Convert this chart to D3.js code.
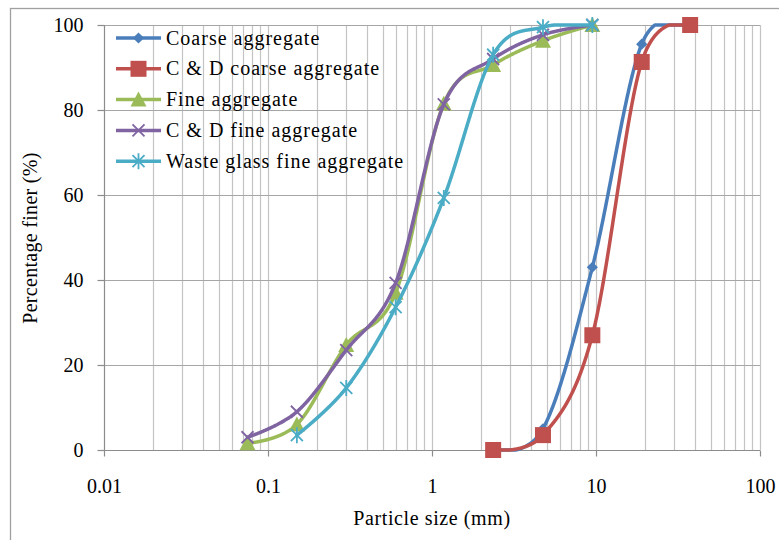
<!DOCTYPE html>
<html><head><meta charset="utf-8">
<script src="https://cdn.jsdelivr.net/npm/d3@7/dist/d3.min.js"></script>
<style>
html,body{margin:0;padding:0;background:#fff;}
svg text{font-family:'Liberation Serif','DejaVu Serif',serif !important;fill:#000;}
</style></head>
<body>
<svg id="chart" width="779" height="540"></svg>
<script>
// ---- data ----
const coarseX = [2.36, 4.75, 9.5, 19, 37.5];
const coarseAgg = [0, 5, 43, 95.5, 100];
const cdCoarseAgg = [0, 3.5, 27, 91.3, 100];
const fineX = [0.075, 0.15, 0.3, 0.6, 1.18, 2.36, 4.75, 9.5];
const fineAgg = [1.6, 6, 24.7, 37, 81.5, 90.6, 96.3, 100];
const cdFineAgg = [3, 9, 23.5, 39.3, 81.3, 92, 97.7, 100];
const glassX = [0.15, 0.3, 0.6, 1.18, 2.36, 4.75, 9.5];
const glassFineAgg = [3.5, 14.6, 33.6, 59.3, 93, 99.5, 100];
const seriesNames = ["Coarse aggregate","C & D coarse aggregate","Fine aggregate","C & D fine aggregate","Waste glass fine aggregate"];
const seriesColors = ["#4A7EBB","#C0504D","#9BBB59","#8064A2","#4BACC6"];
const seriesMarkers = ["diamond","square","triangle","x","star"];
const xTickValues = [0.01, 0.1, 1, 10, 100];
const xTickLabels = ["0.01","0.1","1","10","100"];
const yTickValues = [0, 20, 40, 60, 80, 100];
const xTitle = "Particle size (mm)";
const yTitle = "Percentage finer (%)";

const series = [
  {x: coarseX, y: coarseAgg},
  {x: coarseX, y: cdCoarseAgg},
  {x: fineX, y: fineAgg},
  {x: fineX, y: cdFineAgg},
  {x: glassX, y: glassFineAgg}
].map((s,i)=>({name: seriesNames[i], color: seriesColors[i], marker: seriesMarkers[i],
  pts: s.x.map((xv,j)=>[xv, s.y[j]])}));

const FONT = "'Liberation Serif', 'DejaVu Serif', serif";

// ---- layout ----
const svg = d3.select("#chart");
const L = 104, R = 760, T = 25, B = 450;
const x = d3.scaleLog().domain([0.01, 100]).range([L, R]);
const y = d3.scaleLinear().domain([0, 100]).range([B, T]);

// outer border
svg.append("rect").attr("x",10.5).attr("y",8.5).attr("width",800).attr("height",600)
  .attr("fill","none").attr("stroke","#A0A0A0").attr("stroke-width",1.3);

// vertical gridlines (major + minor)
const vgrid = [];
for (let e = -2; e < 2; e++) for (let m = 1; m <= 9; m++) vgrid.push(m * Math.pow(10, e));
vgrid.push(100);
svg.append("g").selectAll("line").data(vgrid.filter(v=>v>0.01)).join("line")
  .attr("x1", d=>Math.round(x(d))+0.5).attr("x2", d=>Math.round(x(d))+0.5)
  .attr("y1", T).attr("y2", B)
  .attr("stroke","#C4C4C4").attr("stroke-width",1.2);

// horizontal gridlines
svg.append("g").selectAll("line").data(yTickValues.filter(v=>v>0)).join("line")
  .attr("x1", L).attr("x2", R)
  .attr("y1", d=>Math.round(y(d))+0.5).attr("y2", d=>Math.round(y(d))+0.5)
  .attr("stroke","#A6A6A6").attr("stroke-width",1.2);

// y axis
const yAxis = d3.axisLeft(y).tickValues(yTickValues).tickSize(7).tickPadding(14);
const gy = svg.append("g").attr("transform",`translate(${L+0.5},0)`).call(yAxis);
gy.attr("font-family", FONT);
gy.selectAll("path,line").attr("stroke","#8C8C8C").attr("stroke-width",1.2);
gy.select(".domain").attr("d", `M0,${T}V${B}`);
gy.selectAll("text").attr("font-size",20).style("font-family", FONT);

// x axis
const xAxis = d3.axisBottom(x).tickValues(xTickValues).tickFormat((d,i)=>xTickLabels[i]).tickSize(6).tickPadding(22);
const gx = svg.append("g").attr("transform",`translate(0,${B+0.5})`).call(xAxis);
gx.attr("font-family", FONT);
gx.selectAll("path,line").attr("stroke","#8C8C8C").attr("stroke-width",1.2);
gx.select(".domain").attr("d", `M${L},0H${R}`);
gx.selectAll("text").attr("font-size",20).style("font-family", FONT);

// axis titles
svg.append("text").attr("x", 432).attr("y", 525).attr("text-anchor","middle")
  .attr("font-size",20).style("font-family", FONT).style("letter-spacing","0.6px").text(xTitle);
svg.append("text").attr("transform","translate(37,238) rotate(-90)").attr("text-anchor","middle")
  .attr("font-size",20).style("font-family", FONT).style("letter-spacing","0.3px").text(yTitle);

// markers
function drawMarker(g, type, color, cx, cy) {
  if (type === "diamond") {
    g.append("path").attr("d", d3.symbol(d3.symbolDiamond2, 80)()).attr("transform",`translate(${cx},${cy})`).attr("fill",color);
  } else if (type === "square") {
    g.append("rect").attr("x",cx-8).attr("y",cy-8).attr("width",16).attr("height",16).attr("fill",color);
  } else if (type === "triangle") {
    g.append("path").attr("d", `M${cx},${cy-8}L${cx+8},${cy+7}L${cx-8},${cy+7}Z`).attr("fill",color);
  } else if (type === "x") {
    g.append("path").attr("d", `M${cx-6},${cy-6}L${cx+6},${cy+6}M${cx-6},${cy+6}L${cx+6},${cy-6}`)
      .attr("stroke",color).attr("stroke-width",1.8);
  } else if (type === "star") {
    g.append("path").attr("d", `M${cx-6},${cy-6}L${cx+6},${cy+6}M${cx-6},${cy+6}L${cx+6},${cy-6}M${cx},${cy-8}V${cy+8}`)
      .attr("stroke",color).attr("stroke-width",1.8);
  }
}

// series lines: smoothed (Catmull-Rom), then clamped to the plot area like the original
const smooth = d3.line().x(d=>x(d[0])).y(d=>y(d[1])).curve(d3.curveCatmullRom.alpha(0));
const poly = d3.line();
const tmp = svg.append("path").attr("fill","none").attr("stroke","none");
series.forEach(s => {
  tmp.attr("d", smooth(s.pts));
  const node = tmp.node(), len = node.getTotalLength();
  const samples = [];
  for (let l = 0; l <= len; l += 0.5) {
    const p = node.getPointAtLength(l);
    samples.push([p.x, Math.max(T, Math.min(B, p.y))]);
  }
  const pe = node.getPointAtLength(len);
  samples.push([pe.x, Math.max(T, Math.min(B, pe.y))]);
  const g = svg.append("g");
  g.append("path").attr("d", poly(samples)).attr("fill","none").attr("stroke", s.color).attr("stroke-width",3.5)
    .attr("stroke-linejoin","round").attr("stroke-linecap","round");
  s.pts.forEach(p => drawMarker(g, s.marker, s.color, x(p[0]), y(p[1])));
});
tmp.remove();

// legend
const lg = svg.append("g");
series.forEach((s,i) => {
  const cy = 38 + i * 30.8;
  lg.append("line").attr("x1",116).attr("x2",161).attr("y1",cy).attr("y2",cy)
    .attr("stroke", s.color).attr("stroke-width",3.5);
  drawMarker(lg, s.marker, s.color, 138.5, cy);
  lg.append("text").attr("x",166).attr("y",cy+6.5).attr("font-size",20)
    .style("font-family", FONT).style("letter-spacing","1px").text(s.name);
});
</script>
</body></html>
